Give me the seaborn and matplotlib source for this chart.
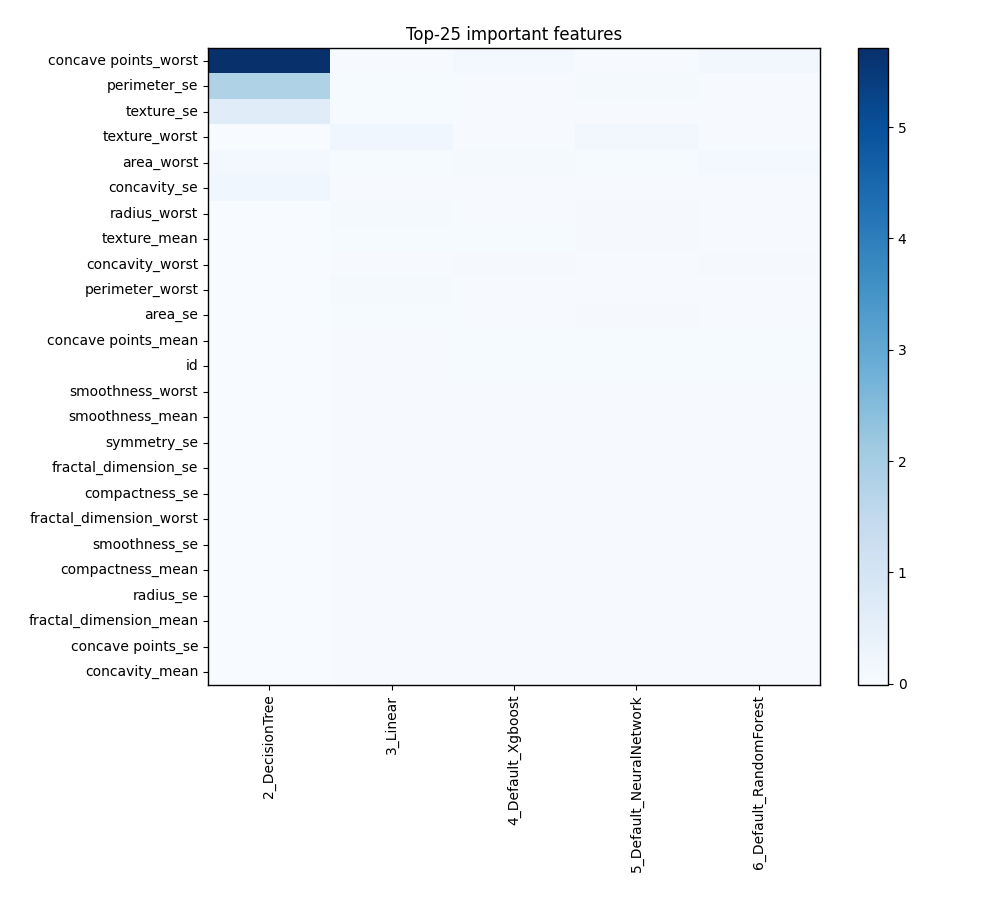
import matplotlib
matplotlib.use("Agg")
import matplotlib.pyplot as plt
import seaborn as sns
import pandas as pd
import numpy as np

features = ["concave points_worst", "perimeter_se", "texture_se", "texture_worst",
            "area_worst", "concavity_se", "radius_worst", "texture_mean",
            "concavity_worst", "perimeter_worst", "area_se", "concave points_mean",
            "id", "smoothness_worst", "smoothness_mean", "symmetry_se",
            "fractal_dimension_se", "compactness_se", "fractal_dimension_worst",
            "smoothness_se", "compactness_mean", "radius_se",
            "fractal_dimension_mean", "concave points_se", "concavity_mean"]
models = ["2_DecisionTree", "3_Linear", "4_Default_Xgboost",
          "5_Default_NeuralNetwork", "6_Default_RandomForest"]

decision_tree = [5.71, 1.80, 0.65, -0.01, 0.12, 0.20, 0.01, 0.01, 0.01, 0.01, 0.01, 0.01,
                 0.01, 0.01, 0.01, 0.01, 0.01, 0.01, 0.01, 0.01, 0.01, 0.01, 0.01, 0.01, 0.01]
linear = [0.02, 0.05, 0.05, 0.20, 0.04, 0.02, 0.08, 0.05, 0.03, 0.09, 0.05, 0.03,
          0.03, 0.02, 0.02, 0.02, 0.02, 0.02, 0.02, 0.02, 0.02, 0.02, 0.02, 0.02, 0.02]
xgboost = [0.11, 0.02, 0.02, 0.02, 0.08, 0.02, 0.02, 0.05, 0.06, 0.03, 0.03, 0.04,
           0.05, 0.02, 0.02, 0.02, 0.02, 0.02, 0.02, 0.02, 0.02, 0.02, 0.02, 0.02, 0.02]
neural_network = [0.03, 0.10, 0.03, 0.15, 0.04, 0.03, 0.06, 0.06, 0.03, 0.03, 0.06, 0.04,
                  0.04, 0.02, 0.02, 0.02, 0.02, 0.02, 0.02, 0.02, 0.02, 0.02, 0.02, 0.02, 0.02]
random_forest = [0.18, 0.02, 0.02, 0.02, 0.12, 0.02, 0.03, 0.03, 0.07, 0.03, 0.03, 0.05,
                 0.04, 0.02, 0.02, 0.02, 0.02, 0.02, 0.02, 0.02, 0.02, 0.02, 0.02, 0.02, 0.02]

df = pd.DataFrame({models[0]: decision_tree, models[1]: linear, models[2]: xgboost,
                   models[3]: neural_network, models[4]: random_forest}, index=features)

fig = plt.figure(figsize=(10, 9), dpi=100)
ax = fig.add_axes([0.208, 0.239, 0.612, 0.7077])
cax = fig.add_axes([0.858, 0.239, 0.03, 0.7077])

sns.heatmap(df, cmap="Blues", ax=ax, cbar_ax=cax, linewidths=0)

for s in ax.spines.values():
    s.set_visible(True)
    s.set_linewidth(1.0)
    s.set_color("black")
cbar = ax.collections[0].colorbar
cbar.outline.set_linewidth(1.0)
cbar.outline.set_edgecolor("black")

ax.tick_params(axis="both", length=3.5, width=0.8, labelsize=10)
cax.tick_params(length=3.5, width=0.8, labelsize=10)
ax.set_xticklabels(models, rotation=90)
ax.set_yticklabels(features, rotation=0)
ax.set_xlabel("")
ax.set_ylabel("")
ax.set_title("Top-25 important features", fontsize=12)

fig.savefig("out.png", dpi=100)
